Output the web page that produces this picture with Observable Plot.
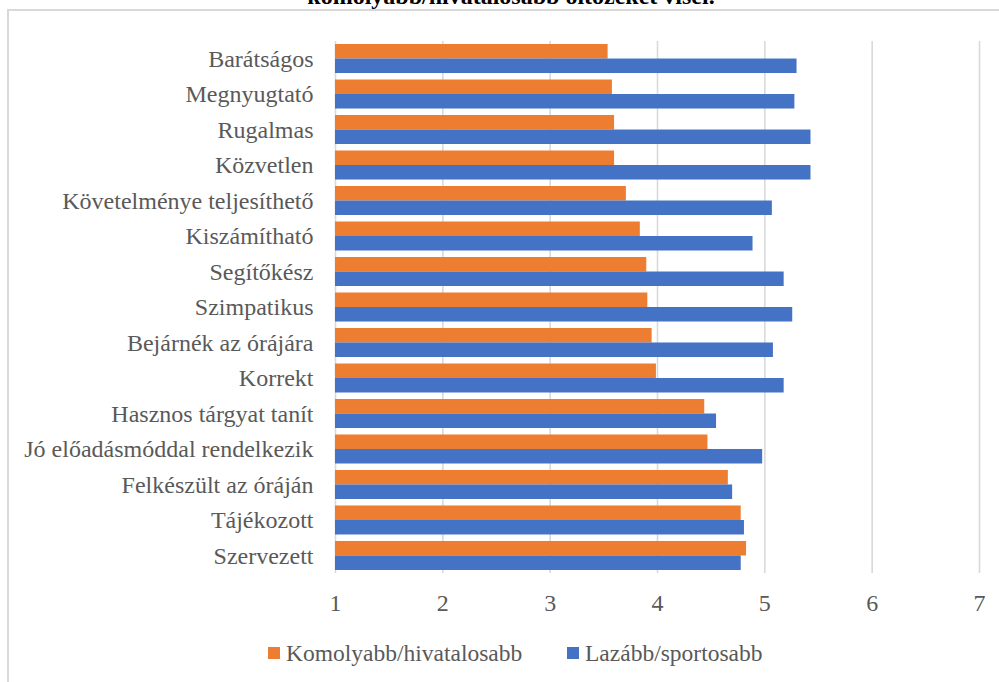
<!DOCTYPE html>
<html><head><meta charset="utf-8">
<script src="https://cdn.jsdelivr.net/npm/d3@7"></script>
<script src="https://cdn.jsdelivr.net/npm/@observablehq/plot@0.6"></script>
<style>
body{margin:0;background:#fff;width:999px;height:682px;overflow:hidden;position:relative;font-family:"Liberation Serif","Times New Roman",serif;}
#frame{position:absolute;left:7px;top:9px;width:1200px;height:1000px;border:2px solid #d9d9d9;box-sizing:border-box;}
#title{position:absolute;left:511px;top:-16px;transform:translateX(-50%);white-space:nowrap;font-weight:bold;font-size:24px;line-height:24px;color:#000;}
#chart{position:absolute;left:0;top:0;}
.leg{position:absolute;top:639px;display:flex;align-items:center;font-size:23.5px;line-height:28px;color:#595959;white-space:nowrap;}
.sw{width:12px;height:12px;margin-right:6px;}
</style></head><body>
<div id="frame"></div>
<div id="title">komolyabb/hivatalosabb öltözéket visel.</div>
<div id="chart"></div>
<div id="legend"></div>
<script>
const categories = ["Barátságos","Megnyugtató","Rugalmas","Közvetlen","Követelménye teljesíthető","Kiszámítható","Segítőkész","Szimpatikus","Bejárnék az órájára","Korrekt","Hasznos tárgyat tanít","Jó előadásmóddal rendelkezik","Felkészült az óráján","Tájékozott","Szervezett"];
const komolyabb = [3.54,3.58,3.60,3.60,3.71,3.84,3.90,3.91,3.95,3.99,4.44,4.47,4.66,4.78,4.83];
const lazabb = [5.30,5.28,5.43,5.43,5.07,4.89,5.18,5.26,5.08,5.18,4.55,4.98,4.70,4.81,4.78];
const xTicks = [1,2,3,4,5,6,7];
const seriesNames = ["Komolyabb/hivatalosabb","Lazább/sportosabb"];
const seriesColors = ["#ED7D31","#4472C4"];

const W=999,H=625,mT=41,mB=52,mL=335,mR=20;
const pi=0.183, po=0.085;
const step=(H-mT-mB)/(categories.length - pi + 2*po);
const half=step*(1-pi)/2;

const rowsK = categories.map((c,i)=>({cat:c, v:komolyabb[i]}));
const rowsL = categories.map((c,i)=>({cat:c, v:lazabb[i]}));
const font = '"Liberation Serif","Times New Roman",serif';

const chart = Plot.plot({
  width:W,height:H,marginTop:mT,marginBottom:mB,marginLeft:mL,marginRight:mR,
  style:{fontFamily:font, background:"transparent", color:"#595959"},
  x:{domain:[1,7], ticks:xTicks, label:null},
  y:{domain:categories, paddingInner:pi, paddingOuter:po, round:false, label:null},
  marks:[
    Plot.ruleX(xTicks,{stroke:"#d9d9d9",strokeWidth:1.6}),
    Plot.barX(rowsK,{x1:1,x2:"v",y:"cat",fill:seriesColors[0],insetBottom:half}),
    Plot.barX(rowsL,{x1:1,x2:"v",y:"cat",fill:seriesColors[1],insetTop:half}),
    Plot.axisX({ticks:xTicks,tickSize:0,tickPadding:20,fontSize:24,label:null,tickFormat:d=>String(d)}),
    Plot.axisY({tickSize:0,tickPadding:22,fontSize:24,label:null})
  ]
});
document.getElementById("chart").appendChild(chart);

const legLefts=[268,567];
const leg=document.getElementById("legend");
seriesNames.forEach((n,i)=>{
  const d=document.createElement("div");
  d.className="leg"; d.style.left=legLefts[i]+"px";
  const s=document.createElement("div"); s.className="sw"; s.style.background=seriesColors[i];
  const t=document.createElement("span"); t.textContent=n;
  d.appendChild(s); d.appendChild(t); leg.appendChild(d);
});
</script>
</body></html>
